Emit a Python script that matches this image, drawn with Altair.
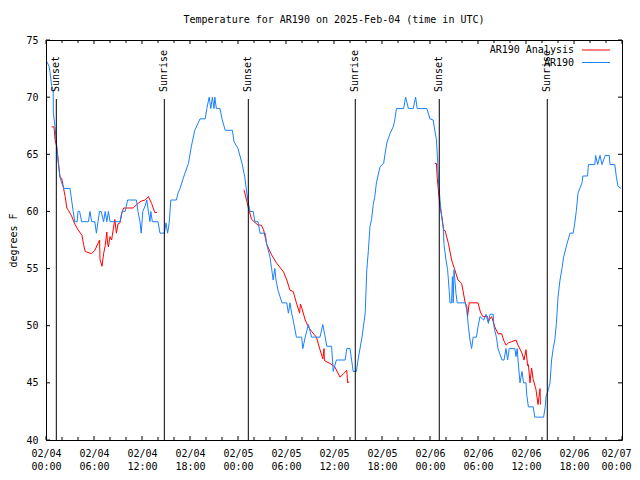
import json
import altair as alt
import pandas as pd

# ---------------- data ----------------
title_text = "Temperature for AR190 on 2025-Feb-04 (time in UTC)"
series_names = ["AR190 Analysis", "AR190"]
series_colors = ["#ff0000", "#1a80ff"]

# hours since 2025-02-04 00:00 UTC
blue_h = [0.12, 0.38, 0.5, 0.62, 0.71, 0.9, 0.92, 1.13, 1.33, 1.54, 1.75, 1.96, 2.25, 3.0, 3.2, 3.4, 3.6, 3.9,
          4.0, 4.2, 4.46, 5.3, 5.5, 5.7, 6.1, 6.3, 6.5, 6.7, 6.9, 7.2, 7.4, 7.6, 7.8, 8.0, 9.25, 9.5, 9.7, 9.9,
          10.2, 11.3, 11.5, 11.75, 11.9, 12.1, 12.4, 12.6, 12.8, 13.0, 13.1, 13.3, 14.0, 14.25, 14.8, 15.0, 15.2,
          15.4, 15.6, 16.3, 16.5, 16.75, 17.2, 17.8, 18.2, 18.6, 19.25, 19.9, 20.1, 20.4, 20.6, 20.8, 21.0, 21.1,
          21.3, 21.75, 22.0, 22.4, 23.3, 23.5, 24.0, 24.5, 24.85, 25.1, 25.3, 25.5, 25.9, 26.1, 26.5, 26.75, 27.4,
          27.6, 28.0, 28.2, 28.4, 28.6, 28.75, 29.0, 29.5, 30.1, 30.3, 30.5, 30.7, 30.9, 31.3, 31.96, 32.1, 32.4,
          32.8, 33.2, 34.25, 34.6, 34.9, 35.1, 35.7, 35.9, 36.3, 37.4, 37.6, 38.0, 38.2, 38.4, 38.8, 39.0, 39.5,
          39.9, 40.1, 40.3, 40.5, 40.7, 40.9, 41.1, 41.3, 41.75, 42.2, 42.6, 43.0, 43.4, 43.6, 43.8, 44.7, 44.95,
          45.3, 45.9, 46.2, 46.4, 47.6, 48.0, 48.4, 48.6, 48.8, 48.95, 49.05, 49.25, 49.46, 49.67, 49.75, 50.0,
          50.2, 50.4, 50.5, 50.7, 50.8, 50.9, 51.0, 51.25, 51.4, 52.4, 52.6, 52.8, 53.0, 53.2, 53.4, 53.8, 54.0,
          54.25, 54.7, 55.0, 55.3, 55.5, 55.9, 56.0, 56.3, 56.5, 57.0, 57.25, 57.5, 57.7, 57.9, 58.6, 58.75, 58.9,
          59.0, 59.25, 59.5, 59.7, 60.0, 60.1, 60.3, 60.9, 61.1, 62.2, 62.4, 62.5, 62.8, 63.0, 63.2, 63.4, 63.6,
          63.8, 64.0, 64.25, 64.5, 64.7, 65.1, 65.5, 65.9, 66.1, 66.3, 66.5, 67.0, 67.1, 67.7, 67.8, 68.6, 68.7,
          68.96, 69.25, 69.5, 69.9, 70.4, 70.5, 71.1, 71.3, 71.5, 71.9]
blue_t = [73.1, 72.7, 72.2, 71.5, 71.0, 70.6, 68.6, 67.4, 65.8, 64.2, 63.0, 62.5, 62.0, 62.0, 61.0, 60.0, 59.1, 59.1,
          60.0, 60.0, 59.1, 59.1, 60.0, 59.1, 59.1, 58.1, 59.1, 60.0, 60.0, 59.1, 60.0, 59.1, 60.0, 59.1, 59.1, 60.0,
          60.0, 60.0, 61.0, 61.0, 60.0, 59.1, 58.1, 60.0, 60.5, 61.0, 60.0, 59.1, 60.0, 59.1, 59.1, 58.1, 58.1, 59.0,
          58.1, 59.0, 61.0, 61.0, 61.6, 62.0, 63.0, 64.2, 65.8, 67.1, 68.1, 68.1, 69.0, 70.0, 69.0, 70.0, 69.0, 70.0,
          69.0, 69.0, 68.1, 67.1, 67.1, 66.1, 65.5, 64.2, 63.0, 61.6, 60.7, 60.0, 60.0, 59.1, 59.1, 58.1, 58.1,
          57.1, 56.0, 55.0, 54.0, 55.0, 54.0, 53.1, 52.0, 52.0, 51.1, 52.0, 51.1, 50.5, 49.0, 49.0, 48.0, 49.0,
          50.1, 49.0, 49.0, 50.1, 49.0, 48.2, 48.2, 46.0, 47.0, 47.0, 48.0, 48.0, 47.0, 46.0, 46.0, 47.0, 49.0,
          51.1, 54.9, 56.6, 58.7, 59.3, 60.6, 61.3, 62.5, 63.9, 64.2, 66.0, 66.8, 67.4, 68.0, 69.0, 69.0, 70.0,
          69.0, 69.0, 70.0, 69.0, 69.0, 68.1, 68.0, 67.1, 66.3, 64.5, 62.8, 61.0, 59.5, 58.5, 57.1, 55.75,
          54.9, 53.1, 52.0, 52.0, 54.3, 52.0, 54.9, 52.8, 52.0, 52.0, 51.4, 49.9, 48.75, 48.0, 49.0, 49.0, 49.9,
          50.8, 50.5, 51.0, 50.2, 51.0, 51.0, 49.9, 49.0, 48.0, 47.0, 47.0, 48.0, 47.0, 48.0, 48.0, 47.3, 48.0,
          47.0, 45.0, 46.0, 45.0, 45.0, 43.9, 42.9, 42.9, 42.0, 42.0, 42.9, 43.8, 44.4, 45.0, 47.0, 48.0, 48.75,
          50.2, 52.5, 54.0, 55.0, 56.0, 57.1, 58.1, 58.1, 59.0, 60.1, 61.6, 62.5, 63.1, 63.1, 64.1, 64.1, 64.9,
          64.1, 64.9, 64.1, 64.9, 64.9, 64.1, 64.1, 63.0, 62.2, 62.0]

# analysis: three nightly segments
red1_h = [0.71, 1.0, 1.13, 1.33, 1.54, 1.75, 1.96, 2.2, 2.4, 2.6, 2.8, 3.2, 3.6, 4.0, 4.5, 4.7, 4.9, 5.7, 6.1,
          6.7, 6.75, 7.0, 7.2, 7.4, 7.6, 7.7, 7.8, 8.0, 8.2, 8.6, 8.8, 9.0, 9.25, 9.46, 9.7, 10.9, 11.5, 11.9,
          12.4, 12.8, 13.2, 13.6, 13.9]
red1_t = [67.4, 67.4, 66.3, 65.7, 64.4, 63.0, 62.9, 62.0, 61.3, 60.3, 60.1, 59.6, 58.9, 58.4, 57.9, 57.1, 56.5,
          56.3, 56.6, 57.5, 55.8, 55.2, 56.3, 57.0, 58.2, 57.2, 56.9, 57.8, 57.5, 59.3, 58.1, 58.9, 59.0, 59.8,
          60.3, 60.3, 60.7, 60.9, 61.0, 61.3, 60.7, 59.9, 59.9]
red2_h = [24.75, 25.1, 25.3, 25.7, 26.5, 26.9, 27.2, 27.6, 28.2, 28.8, 29.7, 30.1, 30.5, 30.9, 31.3, 31.7, 31.8,
          32.0, 32.4, 32.8, 33.2, 33.8, 34.25, 34.6, 34.75, 34.8, 34.9, 35.5, 36.1, 36.75, 37.2, 37.6, 37.7, 37.9]
red2_t = [61.9, 60.9, 60.3, 59.3, 58.8, 58.8, 58.4, 57.1, 56.2, 55.5, 54.7, 54.0, 53.1, 53.0, 52.0, 51.1, 51.9,
          51.5, 50.5, 49.9, 49.5, 49.0, 47.9, 47.1, 48.0, 47.0, 46.9, 46.7, 46.4, 45.5, 45.8, 46.1, 45.0, 45.1]
red3_h = [48.6, 48.8, 48.9, 49.0, 49.25, 49.5, 49.7, 49.9, 50.3, 50.7, 51.1, 51.5, 51.96, 52.4, 52.6, 52.7, 52.9,
          54.0, 54.3, 54.6, 55.2, 55.3, 55.7, 56.1, 56.5, 56.96, 57.2, 57.5, 57.8, 58.2, 58.75, 59.0, 59.5, 59.75,
          60.0, 60.2, 60.3, 60.5, 60.7, 60.9, 61.25, 61.5, 61.75, 61.8]
red3_t = [64.2, 64.2, 63.0, 62.2, 60.4, 59.5, 58.4, 58.3, 57.2, 55.75, 54.9, 54.0, 53.7, 52.0, 51.7, 50.8, 52.0,
          52.0, 51.2, 50.8, 50.8, 50.4, 50.8, 49.9, 49.3, 49.3, 48.75, 48.3, 48.5, 48.6, 48.75, 48.3, 47.6, 47.0,
          47.9, 46.5, 46.6, 45.0, 46.3, 45.3, 44.4, 43.1, 44.5, 43.1]

event_h = [1.29, 14.79, 25.29, 38.66, 49.16, 62.66]
event_labels = ["Sunset", "Sunrise", "Sunset", "Sunrise", "Sunset", "Sunrise"]

tick_hours = [0, 6, 12, 18, 24, 30, 36, 42, 48, 54, 60, 66, 72]
tick_dates = ["02/04", "02/04", "02/04", "02/04", "02/05", "02/05", "02/05", "02/05",
              "02/06", "02/06", "02/06", "02/06", "02/07"]
tick_times = ["00:00", "06:00", "12:00", "18:00", "00:00", "06:00", "12:00", "18:00",
              "00:00", "06:00", "12:00", "18:00", "00:00"]
minor_hours = [h for h in range(0, 73, 2) if h % 6 != 0]
y_ticks = [40, 45, 50, 55, 60, 65, 70, 75]

# ---------------- tables ----------------
blue_df = pd.DataFrame({"h": blue_h, "t": blue_t, "series": series_names[1]})
red_parts = []
for k, (hh, tt) in enumerate([(red1_h, red1_t), (red2_h, red2_t), (red3_h, red3_t)]):
    red_parts.append(pd.DataFrame({"h": hh, "t": tt, "seg": k, "series": series_names[0]}))
red_df = pd.concat(red_parts, ignore_index=True)
ev_df = pd.DataFrame({"h": event_h, "label": event_labels})
major_df = pd.DataFrame({"h": tick_hours})
minor_df = pd.DataFrame({"h": minor_hours})
yt_df = pd.DataFrame({"t": y_ticks})

W, H = 576, 400
FONT = "DejaVu Sans Mono"

dates_js = json.dumps(tick_dates)
times_js = json.dumps(tick_times)
label_expr = f"[{dates_js}[round(datum.value/6)], {times_js}[round(datum.value/6)]]"

xscale = alt.Scale(domain=[0, 72], nice=False, zero=False)
yscale = alt.Scale(domain=[40, 75], nice=False, zero=False)
color_scale = alt.Scale(domain=series_names, range=series_colors)

x_axis = alt.Axis(values=tick_hours, labelExpr=label_expr, ticks=False, domain=False, grid=False,
                  labelFont=FONT, labelFontSize=10, labelColor="black", labelPadding=8,
                  labelLineHeight=13, labelBaseline="top", labelOverlap=False, labelFlush=False,
                  labelBound=False, labelOffset={"expr": "datum.value >= 72 ? -6 : 0"}, title=None)
y_axis = alt.Axis(values=y_ticks, ticks=False, domain=False, grid=False, labelFont=FONT,
                  labelFontSize=10, labelColor="black", labelPadding=8, labelOverlap=False,
                  labelFlush=False,
                  title="degrees F", titleFont=FONT, titleFontSize=10, titleFontWeight="normal",
                  titleColor="black", titleX=-33, titleY=200, titleAngle=270, titleBaseline="middle",
                  titleAlign="center")

X = alt.X("h:Q", scale=xscale, axis=x_axis)
Y = alt.Y("t:Q", scale=yscale, axis=y_axis)

red_line = alt.Chart(red_df).mark_line(strokeWidth=1, clip=True).encode(
    x=X, y=Y, color=alt.Color("series:N", scale=color_scale, legend=None), detail="seg:N",
    order="h:Q")
blue_line = alt.Chart(blue_df).mark_line(strokeWidth=1, clip=True).encode(
    x=X, y=Y, color=alt.Color("series:N", scale=color_scale, legend=None), order="h:Q")

ev_rules = alt.Chart(ev_df).mark_rule(color="black", strokeWidth=1).encode(
    x=alt.X("h:Q", scale=xscale), y=alt.value(59), y2=alt.value(H))
ev_text = alt.Chart(ev_df).mark_text(angle=270, align="left", baseline="middle", font=FONT,
                                     fontSize=10, color="black").encode(
    x=alt.X("h:Q", scale=xscale), y=alt.value(52), text="label:N")

tick_layers = []
for df, ln in [(major_df, 4), (minor_df, 3)]:
    tick_layers.append(alt.Chart(df).mark_rule(color="black").encode(
        x=alt.X("h:Q", scale=xscale), y=alt.value(H), y2=alt.value(H - ln)))
    tick_layers.append(alt.Chart(df).mark_rule(color="black").encode(
        x=alt.X("h:Q", scale=xscale), y=alt.value(0), y2=alt.value(ln)))
tick_layers.append(alt.Chart(yt_df).mark_rule(color="black").encode(
    y=alt.Y("t:Q", scale=yscale), x=alt.value(0), x2=alt.value(4)))
tick_layers.append(alt.Chart(yt_df).mark_rule(color="black").encode(
    y=alt.Y("t:Q", scale=yscale), x=alt.value(W), x2=alt.value(W - 4)))

title_layer = alt.Chart(pd.DataFrame({"txt": [title_text]})).mark_text(
    font=FONT, fontSize=10, color="black", align="center", baseline="middle").encode(
    text="txt:N", x=alt.value(W / 2), y=alt.value(-20))

legend_layers = []
legend_rows = [10, 22.5]
for name, row in zip(series_names, legend_rows):
    ldf = pd.DataFrame({"series": [name]})
    legend_layers.append(alt.Chart(ldf).mark_text(font=FONT, fontSize=10, color="black",
                                                  align="right", baseline="middle").encode(
        text="series:N", x=alt.value(528), y=alt.value(row)))
    legend_layers.append(alt.Chart(ldf).mark_rule(strokeWidth=1).encode(
        color=alt.Color("series:N", scale=color_scale, legend=None),
        x=alt.value(536), x2=alt.value(564), y=alt.value(row)))

chart = alt.layer(
    red_line, blue_line, ev_rules, ev_text, *tick_layers, *legend_layers, title_layer
).properties(
    width=W, height=H,
    autosize=alt.AutoSizeParams(type="none"),
    padding={"left": 38, "top": 32, "right": 10, "bottom": 32},
    background="white",
).configure_view(stroke="black", strokeWidth=1)

chart.save("out.html", embed_options={"renderer": "svg", "actions": False})
